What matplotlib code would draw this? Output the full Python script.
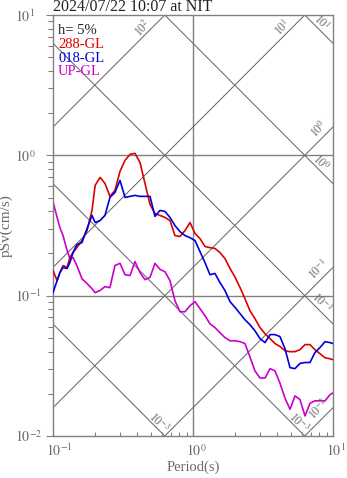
# 速度応答スペクトル (三軸図) 2024/07/22 10:07 NIT

import numpy as np
import matplotlib
matplotlib.use('Agg')
import matplotlib.pyplot as plt
from matplotlib.transforms import ScaledTranslation

plt.rcParams['font.family'] = ['Liberation Serif', 'DejaVu Serif']
plt.rcParams['mathtext.fontset'] = 'stix'

# 周期 (s)
period = [0.100, 0.107, 0.112, 0.118, 0.126, 0.132, 0.139, 0.148, 0.161, 0.175,
          0.190, 0.200, 0.217, 0.235, 0.255, 0.277, 0.301, 0.327, 0.355, 0.385,
          0.418, 0.454, 0.493, 0.535, 0.581, 0.631, 0.685, 0.743, 0.807, 0.877,
          0.952, 1.034, 1.122, 1.218, 1.322, 1.435, 1.558, 1.69, 1.84, 2.00,
          2.17, 2.35, 2.55, 2.77, 3.01, 3.27, 3.55, 3.85, 4.18, 4.54,
          4.93, 5.35, 5.81, 6.31, 6.85, 7.43, 8.07, 8.77, 9.52, 10.0]

# pSv (cm/s)
sv_288 = [0.151, 0.128, 0.146, 0.164, 0.159, 0.187, 0.203, 0.220, 0.247, 0.291,
          0.405, 0.611, 0.696, 0.631, 0.510, 0.562, 0.769, 0.921, 1.017, 1.033,
          0.891, 0.631, 0.447, 0.385, 0.373, 0.361, 0.343, 0.268, 0.264, 0.291,
          0.332, 0.277, 0.255, 0.224, 0.220, 0.217, 0.203, 0.184, 0.156, 0.135,
          0.114, 0.0952, 0.0781, 0.0686, 0.0592, 0.0536, 0.0494, 0.0456, 0.0434, 0.0405,
          0.0399, 0.0399, 0.0412, 0.0448, 0.0448, 0.0412, 0.0386, 0.0361, 0.0355, 0.0350]

sv_018 = [0.105, 0.128, 0.146, 0.159, 0.156, 0.172, 0.203, 0.231, 0.239, 0.301,
          0.373, 0.332, 0.343, 0.373, 0.501, 0.544, 0.663, 0.501, 0.510, 0.518,
          0.510, 0.510, 0.510, 0.367, 0.405, 0.398, 0.361, 0.316, 0.286, 0.268,
          0.259, 0.247, 0.206, 0.172, 0.141, 0.144, 0.124, 0.109, 0.0906, 0.0823,
          0.0744, 0.0674, 0.0621, 0.0562, 0.0494, 0.0463, 0.0528, 0.0528, 0.0511, 0.0419,
          0.0307, 0.0302, 0.0329, 0.0334, 0.0334, 0.0393, 0.0427, 0.0470, 0.0463, 0.0456]

sv_up = [0.469, 0.361, 0.306, 0.268, 0.210, 0.184, 0.187, 0.164, 0.132, 0.122,
         0.112, 0.105, 0.109, 0.116, 0.114, 0.164, 0.170, 0.141, 0.139, 0.175,
         0.146, 0.130, 0.135, 0.170, 0.154, 0.148, 0.128, 0.0921, 0.0768, 0.0768,
         0.0848, 0.0906, 0.0808, 0.0720, 0.0630, 0.0592, 0.0545, 0.0503, 0.0477, 0.0477,
         0.0470, 0.0456, 0.0367, 0.0291, 0.0259, 0.0259, 0.0302, 0.0291, 0.0238, 0.0186,
         0.0155, 0.0193, 0.0182, 0.0139, 0.0171, 0.0178, 0.0178, 0.0178, 0.0197, 0.0203]

# 加速度 (cm/s^2) と 変位 (cm) の補助線
accel_levels = [1e2, 1e1, 1e0, 1e-1, 1e-2]
accel_labels = ['$10^{2}$', '$10^{1}$', '$10^{0}$', '$10^{-1}$', '$10^{-2}$']
disp_levels = [1e1, 1e0, 1e-1, 1e-2, 1e-3]
disp_labels = ['$10^{1}$', '$10^{0}$', '$10^{-1}$', '$10^{-3}$', '$10^{-3}$']

tmin, tmax = 0.1, 10.0
vmin, vmax = 0.01, 10.0
gray = '#808080'
txt_gray = '#6a6a6a'

fig = plt.figure(figsize=(3.47, 4.78), dpi=100)
ax = fig.add_axes([53/347, 42/478, 280/347, 421/478])
ax.set_xscale('log')
ax.set_yscale('log')
ax.set_xlim(tmin, tmax)
ax.set_ylim(vmin, vmax)

# 格子線
ax.axvline(1.0, color=gray, lw=1.0, zorder=1)
for v in [0.1, 1.0]:
    ax.axhline(v, color=gray, lw=1.0, zorder=1)

t_end = np.array([tmin, tmax])
for a, lab in zip(accel_levels, accel_labels):
    ax.plot(t_end, a * t_end / (2 * np.pi), color='#6a6a6a', lw=0.75, zorder=1)
    t_top = 2 * np.pi * vmax / a
    if t_top <= tmax:
        xy, off = (t_top, vmax), (-22, -13)
    else:
        xy, off = (tmax, a * tmax / (2 * np.pi)), (-14, -2)
    ax.annotate(lab, xy=xy, xytext=off, textcoords='offset pixels',
                ha='center', va='center', rotation=45, fontsize=8.5,
                color=txt_gray, annotation_clip=False)

for d, lab in zip(disp_levels, disp_labels):
    ax.plot(t_end, 2 * np.pi * d / t_end, color='#6a6a6a', lw=0.75, zorder=1)
    v_right = 2 * np.pi * d / tmax
    if v_right >= vmin:
        xy, off = (tmax, v_right), (-12, 21)
    else:
        xy, off = (2 * np.pi * d / vmin, vmin), (-6, 13)
    ax.annotate(lab, xy=xy, xytext=off, textcoords='offset pixels',
                ha='center', va='center', rotation=-45, fontsize=8.5,
                color=txt_gray, annotation_clip=False)

ax.plot(period, sv_288, color='#dd0000', lw=1.2, zorder=3)
ax.plot(period, sv_018, color='#0000dd', lw=1.2, zorder=4)
ax.plot(period, sv_up, color='#cc00cc', lw=1.2, zorder=2)

# 凡例
ax.text(0.018, 0.964, 'h= 5%', transform=ax.transAxes, fontsize=10.5, color='#222222', va='center')
ax.text(0.018, 0.931, '288-GL', transform=ax.transAxes, fontsize=10.5, color='#dd0000', va='center')
ax.text(0.018, 0.896, '018-GL', transform=ax.transAxes, fontsize=10.5, color='#0000dd', va='center')
ax.text(0.018, 0.865, 'UP-GL', transform=ax.transAxes, fontsize=10.5, color='#cc00cc', va='center')

ax.set_title('2024/07/22 10:07 at NIT', loc='left', fontsize=11.5, color='#222222', pad=2)
ax.set_xlabel('Period(s)', fontsize=10.5, color=txt_gray, labelpad=1)
ax.set_ylabel('pSv(cm/s)', fontsize=11, color=txt_gray, labelpad=2)

for s in ax.spines.values():
    s.set_color(gray)
    s.set_linewidth(1.0)

ax.set_xticks([0.1, 1, 10])
ax.set_xticklabels(['$10^{-1}$', '$10^{0}$', '$10^{1}$'])
ax.set_yticks([0.01, 0.1, 1, 10])
ax.set_yticklabels(['$10^{-2}$', '$10^{-1}$', '$10^{0}$', '$10^{1}$'])
ax.tick_params(axis='x', which='major', direction='in', length=5, width=0.8, color=gray,
               labelsize=10, labelcolor=txt_gray, pad=5)
ax.tick_params(axis='x', which='minor', direction='in', length=3, width=0.8, color=gray)
ax.tick_params(axis='y', which='major', direction='out', length=5, width=0.8, color=gray,
               labelsize=10, labelcolor=txt_gray, pad=22)
ax.tick_params(axis='y', which='minor', direction='out', length=3.5, width=0.8, color=gray)

for lbl in ax.get_yticklabels():
    lbl.set_horizontalalignment('left')
for lbl in ax.get_xticklabels():
    lbl.set_horizontalalignment('left')
    lbl.set_transform(lbl.get_transform() + ScaledTranslation(-0.07, 0, fig.dpi_scale_trans))

fig.savefig('out.png', dpi=100)
